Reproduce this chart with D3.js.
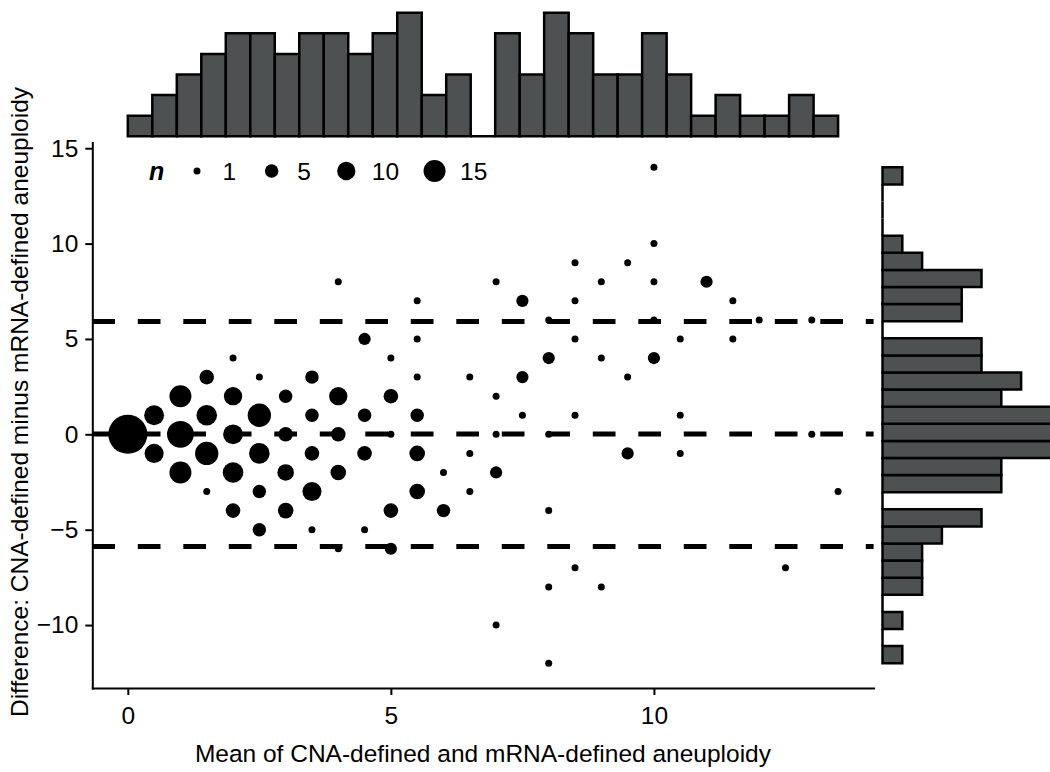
<!DOCTYPE html>
<html>
<head>
<meta charset="utf-8">
<script src="https://cdn.jsdelivr.net/npm/d3@7/dist/d3.min.js"></script>
<style>
  html, body { margin: 0; padding: 0; background: #fff; }
  svg { display: block; }
  text { font-family: "Liberation Sans", Arial, Helvetica, sans-serif; fill: #000; }
</style>
</head>
<body>
<svg id="chart" width="1050" height="772"></svg>
<script>
// Bland–Altman style comparison of CNA-defined vs mRNA-defined aneuploidy.
// Each point is one unique (mean, difference) pair; n = number of samples there.
const meanVals = [
  0,
  0.5, 0.5,
  1, 1, 1,
  1.5, 1.5, 1.5, 1.5,
  2, 2, 2, 2, 2,
  2.5, 2.5, 2.5, 2.5, 2.5,
  3, 3, 3, 3,
  3.5, 3.5, 3.5, 3.5, 3.5,
  4, 4, 4, 4, 4,
  4.5, 4.5, 4.5, 4.5,
  5, 5, 5, 5, 5,
  5.5, 5.5, 5.5, 5.5, 5.5, 5.5,
  6, 6,
  6.5, 6.5, 6.5,
  7, 7, 7, 7, 7,
  7.5, 7.5, 7.5,
  8, 8, 8, 8, 8, 8,
  8.5, 8.5, 8.5, 8.5, 8.5,
  9, 9, 9,
  9.5, 9.5, 9.5,
  10, 10, 10, 10, 10,
  10.5, 10.5, 10.5,
  11,
  11.5, 11.5,
  12,
  12.5,
  13, 13,
  13.5
];
const diffVals = [
  0,
  1, -1,
  2, 0, -2,
  3, 1, -1, -3,
  4, 2, 0, -2, -4,
  3, 1, -1, -3, -5,
  2, 0, -2, -4,
  3, 1, -1, -3, -5,
  8, 2, 0, -2, -6,
  5, 1, -1, -5,
  4, 2, 0, -4, -6,
  7, 5, 3, 1, -1, -3,
  -2, -4,
  3, -1, -3,
  8, 2, 0, -2, -10,
  7, 3, 1,
  6, 4, 0, -4, -8, -12,
  9, 7, 5, 1, -7,
  8, 4, -8,
  9, 3, -1,
  14, 10, 8, 6, 4,
  5, 1, -1,
  8,
  7, 5,
  6,
  -7,
  6, 0,
  -3
];
const nVals = [
  51,
  12, 11,
  15, 23, 15,
  6, 13, 17, 1,
  1, 10, 12, 13, 6,
  1, 17, 13, 5, 5,
  5, 6, 8, 7,
  5, 5, 6, 11, 1,
  1, 10, 6, 7, 1,
  4, 5, 6, 1,
  1, 6, 1, 6, 4,
  1, 1, 1, 5, 7, 7,
  1, 5,
  1, 1, 1,
  1, 1, 1, 4, 1,
  4, 4, 1,
  1, 4, 1, 1, 1, 1,
  1, 1, 1, 1, 1,
  1, 1, 1,
  1, 1, 4,
  1, 1, 1, 1, 4,
  1, 1, 1,
  4,
  1, 1,
  1,
  1,
  1, 1,
  1
];

// Mean difference and 95% limits of agreement
const agreementLines = [5.92, 0.02, -5.88];

const xTicks = [0, 5, 10];
const yTicks = [-10, -5, 0, 5, 10, 15];
const legendBreaks = [1, 5, 10, 15];
const histBins = 29;

const points = meanVals.map((m, i) => ({ mean: m, diff: diffVals[i], n: nVals[i] }));

const svg = d3.select("#chart");
const W = 1050, H = 772;
svg.append("rect").attr("width", W).attr("height", H).attr("fill", "#fff");

// Main panel geometry
const panel = { left: 92.3, right: 873.6, top: 142.5, bottom: 688 };

function expand(ext, f = 0.05) {
  const pad = (ext[1] - ext[0]) * f;
  return [ext[0] - pad, ext[1] + pad];
}

const xExt = d3.extent(meanVals);
const yExt = d3.extent(diffVals);

const x = d3.scaleLinear().domain(expand(xExt)).range([panel.left, panel.right]);
const y = d3.scaleLinear().domain(expand(yExt)).range([panel.bottom, panel.top]);
const r = d3.scaleSqrt().domain([1, 15]).range([3.5, 11]);

// Marginal histograms: 29 equal bins from the data minimum to maximum
function makeBins(values, ext) {
  const w = (ext[1] - ext[0]) / histBins;
  return d3.bin()
    .domain(ext)
    .thresholds(d3.range(1, histBins).map(i => ext[0] + i * w))(values);
}
const topBins = makeBins(meanVals, xExt);
const rightBins = makeBins(diffVals, yExt);

const barFill = "#4d5152";
const barStroke = "#000";

// Bars are drawn as closed paths so that empty bins still show their outline
function boxPath(x0, y0, x1, y1) {
  return `M${x0},${y0}H${x1}V${y1}H${x0}Z`;
}

// Top marginal histogram (counts of mean values)
const topMax = d3.max(topBins, b => b.length);
const yTop = d3.scaleLinear()
  .domain(expand([0, topMax]))
  .range([panel.top, panel.top - (topMax * 1.1) * 20.6]);

svg.append("g").selectAll("path")
  .data(topBins)
  .join("path")
  .attr("d", b => boxPath(x(b.x0), yTop(0), x(b.x1), yTop(b.length)))
  .attr("fill", barFill)
  .attr("stroke", barStroke)
  .attr("stroke-width", 2.5)
  .attr("stroke-linejoin", "miter");

// Right marginal histogram (counts of difference values)
const rightMax = d3.max(rightBins, b => b.length);
const xRight = d3.scaleLinear()
  .domain(expand([0, rightMax]))
  .range([panel.right, panel.right + (rightMax * 1.1) * 19.8]);

svg.append("g").selectAll("path")
  .data(rightBins)
  .join("path")
  .attr("d", b => boxPath(xRight(0), y(b.x1), xRight(b.length), y(b.x0)))
  .attr("fill", barFill)
  .attr("stroke", barStroke)
  .attr("stroke-width", 2.5)
  .attr("stroke-linejoin", "miter");

// Points
svg.append("g").selectAll("circle")
  .data(points)
  .join("circle")
  .attr("cx", d => x(d.mean))
  .attr("cy", d => y(d.diff))
  .attr("r", d => r(d.n))
  .attr("fill", "#000");

// Agreement lines
svg.append("g").selectAll("line")
  .data(agreementLines)
  .join("line")
  .attr("x1", panel.left)
  .attr("x2", panel.right)
  .attr("y1", d => y(d))
  .attr("y2", d => y(d))
  .attr("stroke", "#000")
  .attr("stroke-width", 5)
  .attr("stroke-dasharray", "22.7 22.8");

// Axes
const tickFont = 24.5;
const xAxis = svg.append("g")
  .attr("transform", `translate(0,${panel.bottom})`)
  .call(d3.axisBottom(x).tickValues(xTicks).tickSize(7).tickSizeOuter(0).tickPadding(12));
const yAxis = svg.append("g")
  .attr("transform", `translate(${panel.left},0)`)
  .call(d3.axisLeft(y).tickValues(yTicks).tickSize(7).tickSizeOuter(0).tickPadding(7));

[xAxis, yAxis].forEach(g => {
  g.select(".domain").attr("stroke", "#000").attr("stroke-width", 2).attr("stroke-linecap", "square");
  g.selectAll(".tick line").attr("stroke", "#000").attr("stroke-width", 2);
  g.selectAll(".tick text")
    .attr("font-family", "Liberation Sans, Arial, sans-serif")
    .attr("font-size", tickFont)
    .attr("fill", "#000");
});

// Axis titles
svg.append("text")
  .attr("x", (panel.left + panel.right) / 2)
  .attr("y", 762)
  .attr("text-anchor", "middle")
  .attr("font-size", 24.5)
  .text("Mean of CNA-defined and mRNA-defined aneuploidy");

svg.append("text")
  .attr("transform", "translate(28,402) rotate(-90)")
  .attr("text-anchor", "middle")
  .attr("font-size", 24.5)
  .text("Difference: CNA-defined minus mRNA-defined aneuploidy");

// Size legend
const legend = svg.append("g").attr("transform", "translate(0,171)");
legend.append("text")
  .attr("x", 149)
  .attr("y", 9)
  .attr("font-size", 25)
  .attr("font-weight", "bold")
  .attr("font-style", "italic")
  .text("n");

let cx = 197;
legendBreaks.forEach(v => {
  legend.append("circle").attr("cx", cx).attr("cy", 0).attr("r", r(v)).attr("fill", "#000");
  const t = legend.append("text")
    .attr("x", cx + 25.5)
    .attr("y", 8.8)
    .attr("font-size", tickFont)
    .text(v);
  const w = t.node().getComputedTextLength();
  cx += w + 61;
});
</script>
</body>
</html>
